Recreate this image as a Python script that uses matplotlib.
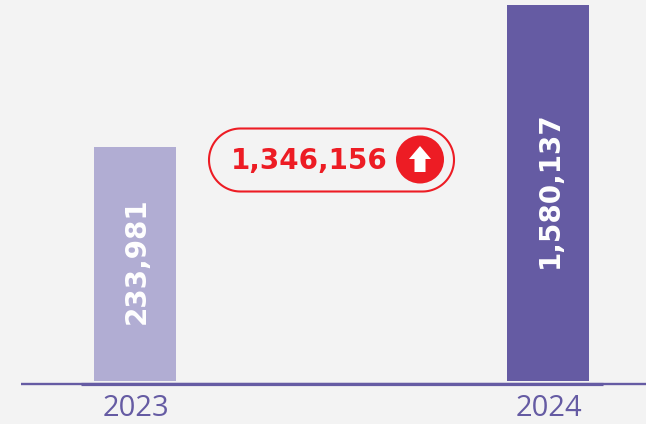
import matplotlib
matplotlib.use("Agg")
import numpy as np
from matplotlib import pyplot as plt
from matplotlib.patches import Circle, Polygon

# bar lengths follow the picture, the printed numbers are not to scale
years = ["2023", "2024"]
bar_heights = [234, 376]
bar_labels = ["233,981", "1,580,137"]
bar_colors = ["#b1add3", "#655ba3"]
change_label = "1,346,156"

PURPLE = "#655ba3"
RED = "#ed1c24"
BG = "#f3f3f3"

plt.rcParams["font.family"] = ["Open Sans", "DejaVu Sans"]

fig = plt.figure(figsize=(6.46, 4.24), dpi=100, facecolor=BG)
ax = fig.add_axes([0, 0, 1, 1], facecolor=BG)
# one unit is one pixel, y = 0 sits on the foot of the bars
ax.set_xlim(0, 646)
ax.set_ylim(-43, 381)
ax.axis("off")

centers = [135, 548]
label_y = [120, 191.5]
ax.bar(centers, bar_heights, width=82, color=bar_colors, align="center")

for x, y, label in zip(centers, label_y, bar_labels):
    ax.text(x + 2, y, label, rotation=90, color="white", fontsize=20,
            family="DejaVu Sans", fontweight="bold", ha="center", va="center")

for x, year in zip(centers, years):
    ax.text(x + 0.5, -28, year, color=PURPLE, fontsize=21, ha="center", va="center")

# baseline: thin full line with a heavier stretch under the bars
ax.plot([21, 646], [-3, -3], color=PURPLE, lw=1.7, solid_capstyle="butt")
ax.plot([81, 603], [-3.3, -3.3], color=PURPLE, lw=2.3, solid_capstyle="butt")

# change badge, a pill with true half circle ends
r = 31.5
cy = 221
t = np.linspace(-np.pi / 2, np.pi / 2, 60)
pill_x = np.r_[454 - r + r * np.cos(t), 209 + r - r * np.cos(t)]
pill_y = np.r_[cy + r * np.sin(t), cy - r * np.sin(t)]
ax.add_patch(Polygon(np.c_[pill_x, pill_y], closed=True, facecolor="none",
                     edgecolor=RED, lw=1.5))
ax.text(309, 220, change_label, color=RED, fontsize=20, family="DejaVu Sans",
        fontweight="bold", ha="center", va="center")
ax.add_patch(Circle((420, 221.5), 24, color=RED, lw=0))
ax.add_patch(Polygon([(420, 235), (431, 222), (425.5, 222), (425.5, 209),
                      (414.5, 209), (414.5, 222), (409, 222)],
                     closed=True, facecolor="white", edgecolor="none"))

fig.savefig("out.png", dpi=100, facecolor=BG)
